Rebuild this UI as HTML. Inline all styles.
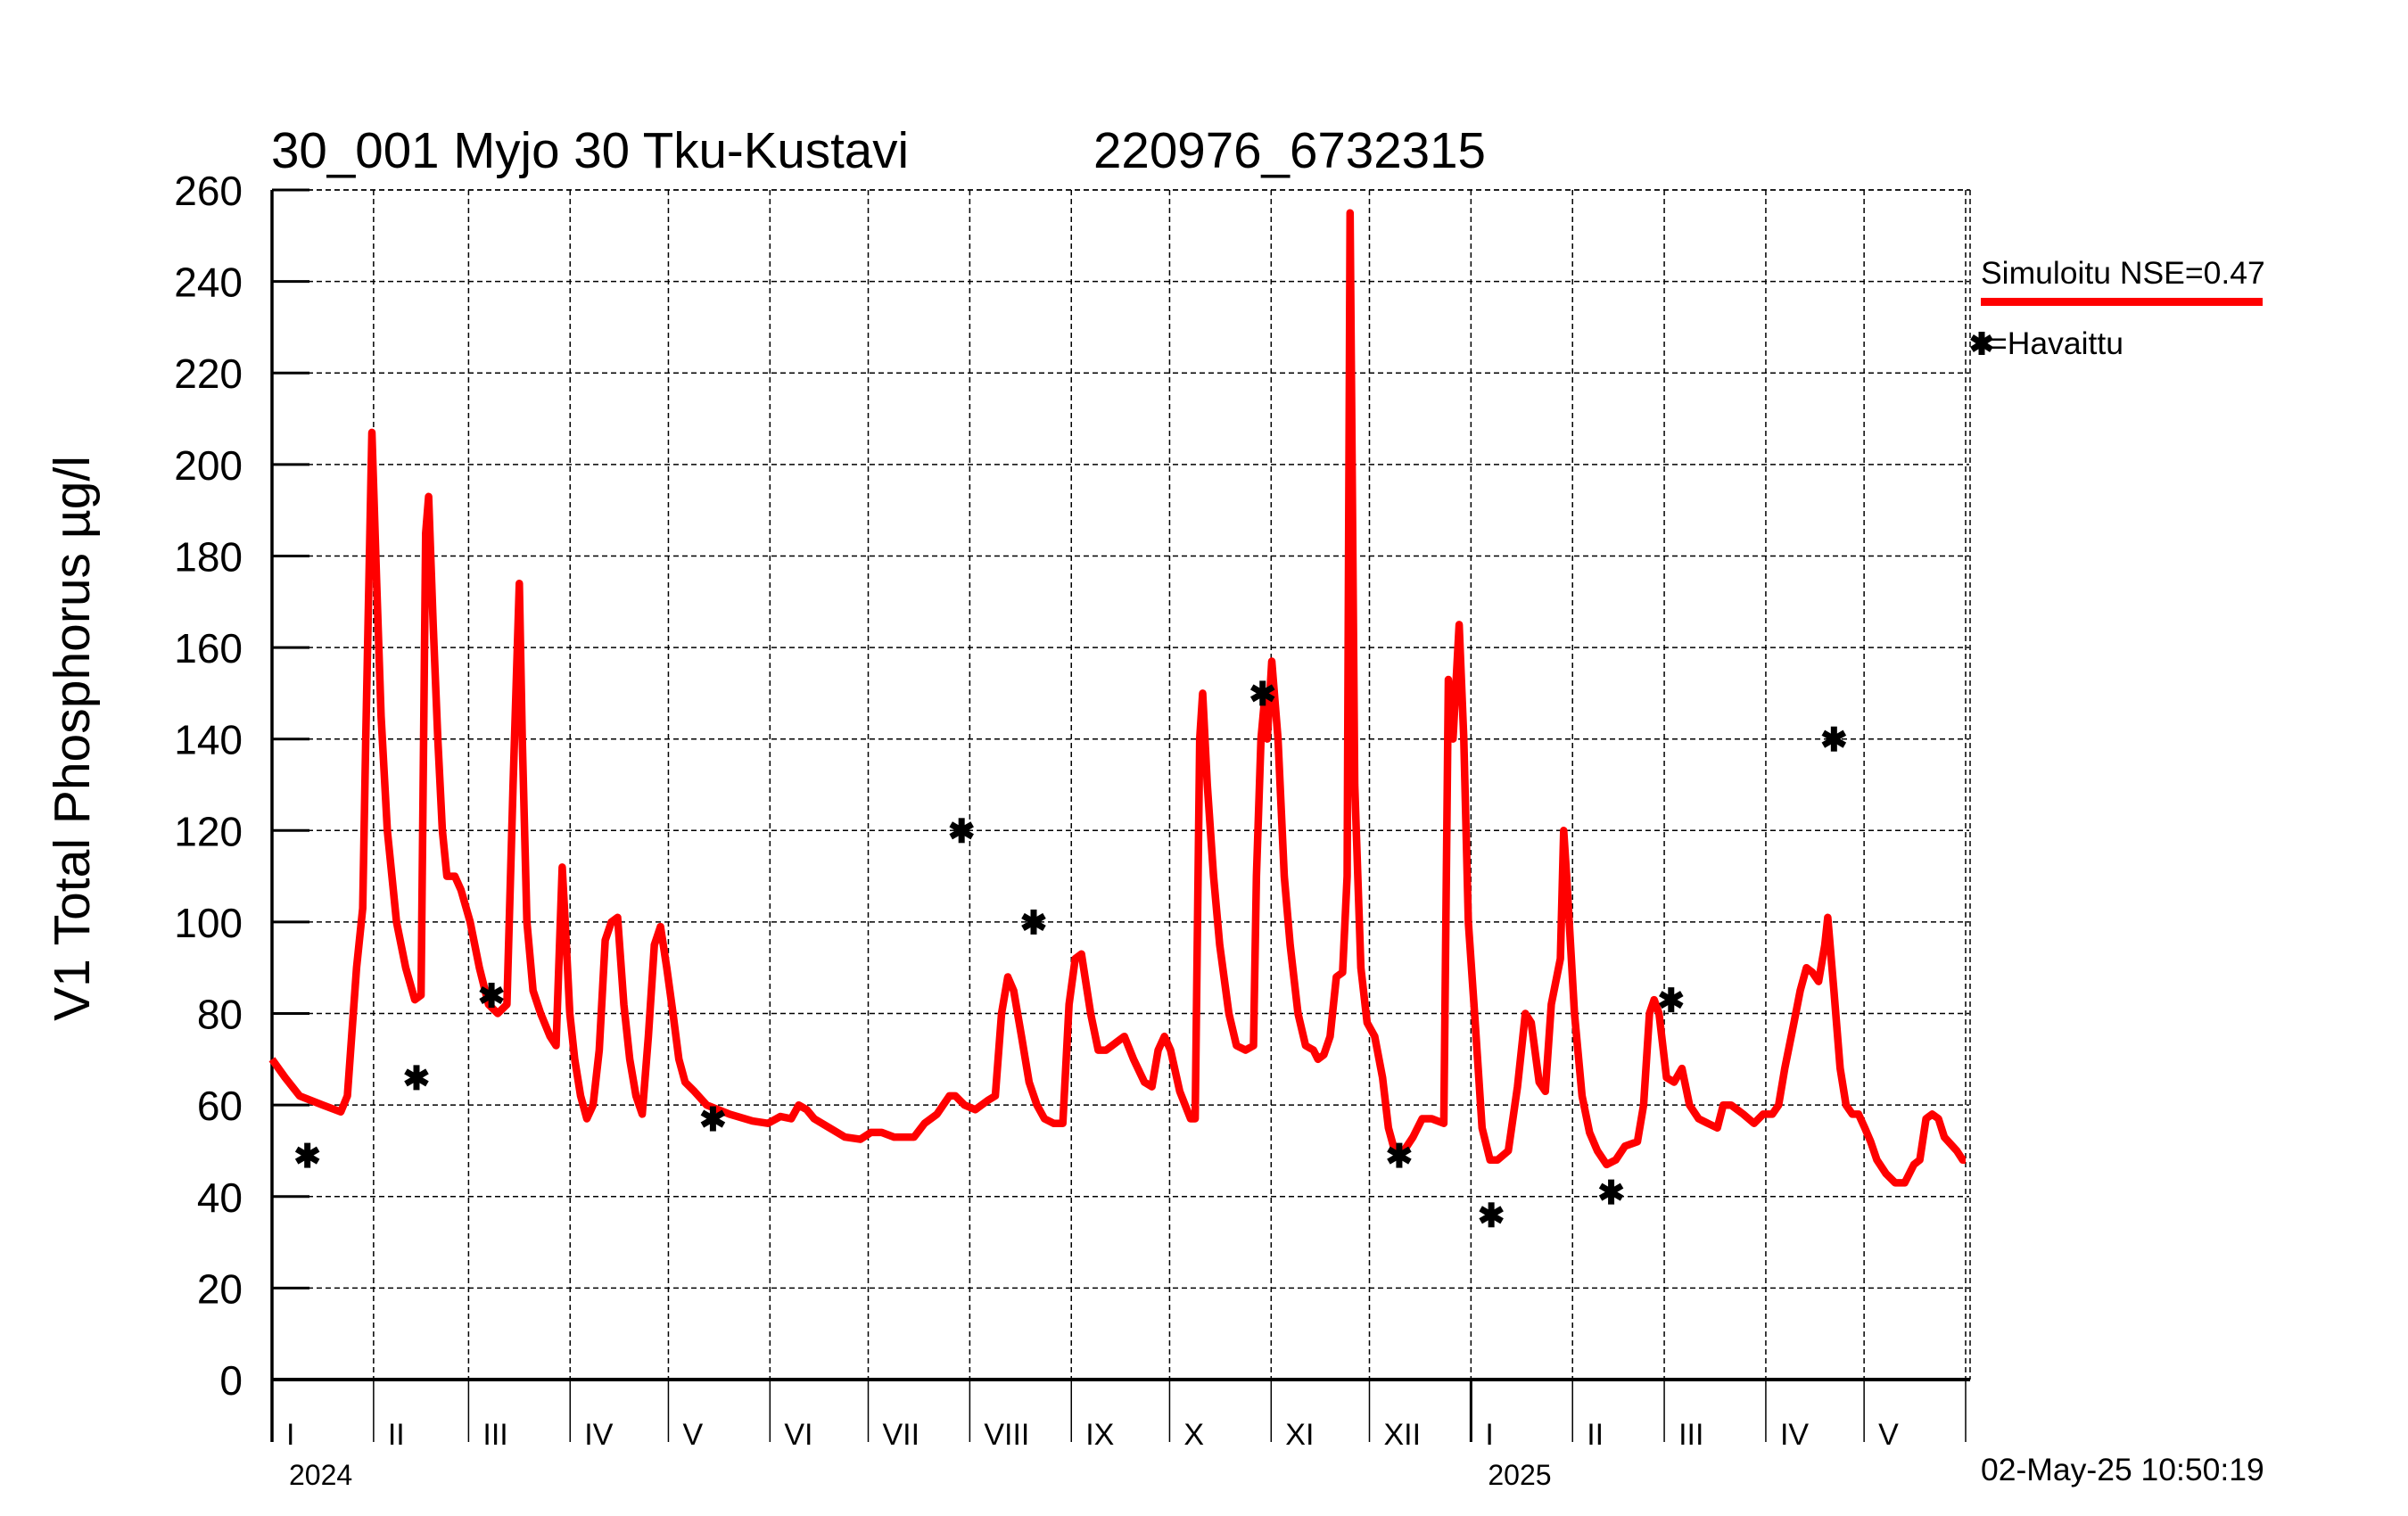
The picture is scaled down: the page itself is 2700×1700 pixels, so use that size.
<!DOCTYPE html>
<html><head><meta charset="utf-8"><style>
html,body{margin:0;padding:0;background:#fff;}
svg{display:block;font-family:"Liberation Sans",sans-serif;}
</style></head><body>
<svg id="chart" width="2700" height="1700" viewBox="0 0 2700 1700" xmlns="http://www.w3.org/2000/svg">
<rect width="2700" height="1700" fill="#fff"/>
<text x="304" y="188" font-size="56.5">30_001 Myjo 30 Tku-Kustavi</text>
<text x="1226" y="188" font-size="56.5">220976_6732315</text>
<text transform="translate(100,828) rotate(-90)" text-anchor="middle" font-size="57">V1 Total Phosphorus µg/l</text>
<g id="grid"></g>
<g id="axes"></g>
<g id="series"></g>
<g id="obs"></g>
<g>
<text x="2221" y="318" font-size="35.5">Simuloitu NSE=0.47</text>
<rect x="2221" y="334" width="316" height="9" fill="#ff0000"/>
<g stroke="#000" stroke-width="7">
<line x1="2222" y1="372" x2="2222" y2="398"/><line x1="2211" y1="378" x2="2233" y2="392"/><line x1="2211" y1="392" x2="2233" y2="378"/></g>
<text x="2230" y="397" font-size="35.5">=Havaittu</text>
</g>
<text x="2221" y="1660" font-size="35.5">02-May-25 10:50:19</text>
</svg>
<script>
const yTicks=[0,20,40,60,80,100,120,140,160,180,200,220,240,260];
const monthStarts=[0,31,60,91,121,152,182,213,244,274,305,335,366,397,425,456,486,517];
const monthLabels=["I","II","III","IV","V","VI","VII","VIII","IX","X","XI","XII","I","II","III","IV","V"];
const yearLabels=["2024","2025"];
const yearStartDays=[0,366];
const simDays=[0,4,8.4,15.5,21,23,25.8,27.7,28.6,30.5,31.9,33.3,35.2,38,40.8,43.6,45.5,46.9,47.8,49.2,50.6,52,53.4,55.8,57.7,60.5,63.3,66.1,68.9,71.7,73.6,75.5,76.4,77.8,79.7,82,84.9,86.7,88.6,89.5,90.9,92.4,94.2,96.1,98,99.9,101.7,103.6,105.5,107.4,109.2,111.1,113,114.9,116.7,118.6,120.5,122.4,124.2,126.1,128.9,132.7,139.7,146.7,151.4,155.2,158.5,160.8,163.2,165.5,170.2,174.9,179.6,182.8,186.1,189.9,196,199.2,203,206.8,208.6,211.4,214.7,218.5,220.8,222.7,224.6,226.4,228.8,231.1,233.5,235.8,238.6,241.4,243.3,245.2,247.1,249.9,252.2,254.6,258.3,260.2,263,266.3,268.6,270.5,272.4,274.3,277.1,280.4,281.8,283.2,284.1,285.5,287.4,289.3,292.1,294.4,297.2,299.6,300.5,301.9,302.9,303.8,305.2,307.1,309,310.8,313.2,315.5,317.9,319.3,321.1,323,324.9,326.8,328.2,329.1,330.5,332.4,334.3,336.6,339,340.8,342.7,345.5,348.3,351.1,354,357.7,359.1,360.5,362.4,363.8,365.2,367.1,369.4,371.8,374.1,377.4,380.2,382.6,384.4,386.8,388.7,390.5,393.3,394.3,395.2,397.6,399.9,402.2,404.6,407.4,410.2,413,416.8,418.7,420.5,421.9,423.4,425.7,428,430.4,432.7,435.5,438.3,441.2,443,445.4,449.1,452.4,455.2,458,459.9,461.8,464.6,466.5,468.4,470.2,472.1,474,474.9,476.8,478.7,480.5,482.4,484.3,486.2,488,489.9,492.7,495.5,498.4,501.2,503,504.9,506.8,508.7,510.5,514.3,516.1,517];
const simValues=[70,66,62,60,58.5,62,90,103,140,207,175,145,120,100,90,83,84,185,193,165,140,120,110,110,107,100,90,82,80,82,130,174,140,100,85,80,75,73,112,100,80,70,62,57,60,72,96,100,101,82,70,62,58,75,95,99,90,80,70,65,63,60,58,56.5,56,57.5,57,60,59,57,55,53,52.5,54,54,53,53,56,58,62,62,60,59,61,62,80,88,85,75,65,60,57,56,56,82,92,93,80,72,72,74,75,70,65,64,72,75,72,63,57,57,140,150,130,110,95,80,73,72,73,110,140,148,140,157,140,110,95,80,73,72,70,71,75,88,89,110,255,130,90,78,75,66,55,50,50,53,57,57,56,153,140,165,140,100,80,55,48,48,50,64,80,78,65,63,82,92,120,110,80,62,54,50,47,48,51,52,60,80,83,80,66,65,68,60,57,56,55,60,60,58,56,58,58,60,68,78,85,90,89,87,95,101,85,68,60,58,58,55,52,48,45,43,43,47,48,57,58,57,53,50,48,48];
const obsDays=[10.8,44.1,67,134.6,210.5,232.5,302.4,344.1,372.2,408.8,427.1,476.8];
const obsValues=[49,66,84,57,120,100,150,49,36,41,83,140];

const NS="http://www.w3.org/2000/svg";
const X0=305,X1=2204,Y0=1547,Y1=213,DMAX=517,VMAX=260;
function xS(d){return X0+d*(X1-X0)/DMAX;}
function yS(v){return Y0-v*(Y0-Y1)/VMAX;}
function mk(tag,attrs,parent){const e=document.createElementNS(NS,tag);for(const k in attrs)e.setAttribute(k,attrs[k]);parent.appendChild(e);return e;}
const grid=document.getElementById('grid'),axes=document.getElementById('axes');
yTicks.forEach(function(v){
  if(v>0){const g=mk('line',{x1:X0,y1:yS(v),x2:X1+4,y2:yS(v),stroke:'#000','stroke-width':1.5,'stroke-dasharray':'6,4'},grid);
  
  
  const t=mk('line',{x1:X0,y1:yS(v),x2:X0+42,y2:yS(v),stroke:'#000','stroke-width':3},axes);
  
  }
  const l=mk('text',{x:272,y:yS(v)+17,'text-anchor':'end','font-size':46},axes);
  l.textContent=v;
  
  
});
monthStarts.forEach(function(d,i){
  const x=xS(d);
  if(i>0){const g=mk('line',{x1:x,y1:Y1,x2:x,y2:Y0,stroke:'#000','stroke-width':1.5,'stroke-dasharray':'6,4'},grid);
  
  }
  const yr=yearStartDays.indexOf(d)>=0;
  const t=mk('line',{x1:x,y1:Y0,x2:x,y2:1617,stroke:'#000','stroke-width':yr?3:1.5},axes);
  
  
  if(i<monthLabels.length){const l=mk('text',{x:x+16,y:1620,'font-size':34},axes);
  l.textContent=monthLabels[i];
  
  }
});
const rb=mk('line',{x1:X1+5,y1:Y1,x2:X1+5,y2:Y0,stroke:'#000','stroke-width':1.5,'stroke-dasharray':'6,4'},grid);


const tb=mk('line',{x1:X0,y1:Y1,x2:X1+5,y2:Y1,stroke:'#000','stroke-width':1.5,'stroke-dasharray':'6,4'},grid);


yearLabels.forEach(function(y,i){
  const l=mk('text',{x:xS(yearStartDays[i])+19,y:1665,'font-size':32},axes);
  l.textContent=y;
  
  
});
const ya=mk('line',{x1:X0,y1:Y1,x2:X0,y2:1617,stroke:'#000','stroke-width':3.5},axes);


const xa=mk('line',{x1:X0,y1:Y0,x2:X1+5,y2:Y0,stroke:'#000','stroke-width':4},axes);


let dstr=simDays.map(function(d,i){return (i?'L':'M')+xS(d).toFixed(1)+','+yS(simValues[i]).toFixed(1);}).join('');
const p=mk('path',{d:dstr,fill:'none',stroke:'#ff0000','stroke-width':8.5,'stroke-linejoin':'round'},document.getElementById('series'));


const og=document.getElementById('obs');
obsDays.forEach(function(d,i){
  const cx=xS(d),cy=yS(obsValues[i]);
  const g=mk('g',{stroke:'#000','stroke-width':7},og);
  
  
  mk('line',{x1:cx,y1:cy-14,x2:cx,y2:cy+14},g);
  mk('line',{x1:cx-12,y1:cy-7,x2:cx+12,y2:cy+7},g);
  mk('line',{x1:cx-12,y1:cy+7,x2:cx+12,y2:cy-7},g);
});
</script>
</body></html>
